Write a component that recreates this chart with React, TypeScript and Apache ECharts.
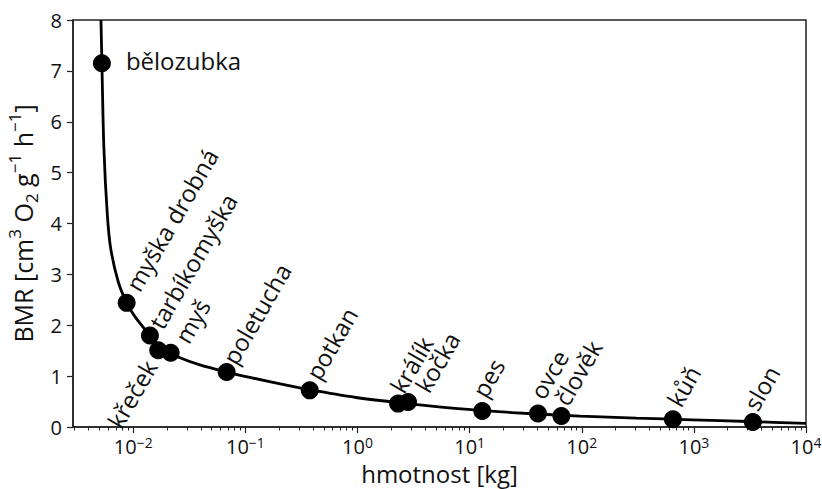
import React, { useEffect, useRef } from 'react';
import * as echarts from 'echarts';

// ---------- data ----------
const animalNames = ['bělozubka', 'myška drobná', 'tarbíkomyška', 'křeček', 'myš', 'poletucha', 'potkan', 'králík', 'kočka', 'pes', 'ovce', 'člověk', 'kůň', 'slon'];
const animalMass = [0.00525, 0.00873, 0.01408, 0.0167, 0.02156, 0.068, 0.375, 2.3, 2.82, 12.96, 40.7, 65.8, 650, 3356];
const animalBMR = [7.15, 2.44, 1.8, 1.51, 1.46, 1.08, 0.72, 0.46, 0.49, 0.315, 0.264, 0.217, 0.152, 0.098];

const curveMass = [0.00515, 0.00525, 0.00547, 0.00587, 0.00629, 0.00735, 0.00874, 0.01035, 0.01408, 0.01669, 0.02156, 0.0261, 0.0393, 0.068, 0.0967, 0.3056, 0.375, 0.967, 3.056, 9.67, 30.56, 96.7, 305.6, 967, 3056, 10000];
const curveBMR = [8.0, 7.15, 5.48, 4.17, 3.51, 2.85, 2.44, 2.17, 1.8, 1.62, 1.46, 1.36, 1.22, 1.08, 1.0, 0.77, 0.73, 0.58, 0.45, 0.345, 0.27, 0.215, 0.175, 0.142, 0.108, 0.07];

const xMin = 0.0029;
const xMax = 10000;
const yMin = 0;
const yMax = 8;
const yInterval = 1;

const majorTickMass = [0.01, 0.1, 1, 10, 100, 1000, 10000];
const tickDecades = [0.001, 0.01, 0.1, 1, 10, 100, 1000];
const tickMultipliers = [2, 3, 4, 5, 6, 7, 8, 9];

// ---------- label placement (style) ----------
type Place = { dx: number; dy: number; rotate: number; align: 'left' | 'right' };
const labelPlaces: Place[] = [
  { dx: 24, dy: -3, rotate: 0, align: 'left' }, // bělozubka
  { dx: 5, dy: -14, rotate: 60, align: 'left' }, // myška drobná
  { dx: 5, dy: -9, rotate: 60, align: 'left' }, // tarbíkomyška
  { dx: -8, dy: 12, rotate: 60, align: 'right' }, // křeček
  { dx: 10, dy: -12, rotate: 60, align: 'left' }, // myš
  { dx: 2, dy: -10, rotate: 60, align: 'left' }, // poletucha
  { dx: 2, dy: -13, rotate: 60, align: 'left' }, // potkan
  { dx: -2, dy: -13, rotate: 60, align: 'left' }, // králík
  { dx: 13, dy: -12, rotate: 60, align: 'left' }, // kočka
  { dx: -4, dy: -16, rotate: 60, align: 'left' }, // pes
  { dx: -2, dy: -17, rotate: 60, align: 'left' }, // ovce
  { dx: -1, dy: -13, rotate: 60, align: 'left' }, // člověk
  { dx: 0, dy: -15, rotate: 60, align: 'left' }, // kůň
  { dx: -3, dy: -14, rotate: 60, align: 'left' }, // slon
];

const FONT = '"Open Sans", "Noto Sans", "DejaVu Sans", sans-serif';
const INK = '#111';
const SYMBOL = 18;

export default function App() {
  const ref = useRef<HTMLDivElement>(null);

  useEffect(() => {
    if (!ref.current) return;
    const chart = echarts.init(ref.current, undefined, { renderer: 'svg' });

    const minorTickMass: number[] = [];
    tickDecades.forEach((d) => tickMultipliers.forEach((k) => {
      const v = +(d * k).toPrecision(6);
      if (v >= xMin && v <= xMax) minorTickMass.push(v);
    }));

    const half = SYMBOL / 2;
    const pointData = animalNames.map((name, i) => {
      const p = labelPlaces[i];
      return {
        name,
        value: [animalMass[i], animalBMR[i]],
        label: {
          show: true,
          formatter: name,
          position: [half + p.dx, half + p.dy],
          align: p.align,
          verticalAlign: 'middle',
          rotate: p.rotate,
          fontSize: 24,
          fontFamily: FONT,
          color: INK,
        },
      };
    });

    const option: any = {
      animation: false,
      backgroundColor: '#ffffff',
      grid: {
        left: 73,
        right: 16,
        top: 20,
        bottom: 62,
        outerBoundsMode: 'none',
        containLabel: false,
        show: true,
        borderColor: '#222',
        borderWidth: 1.5,
        backgroundColor: 'transparent',
      },
      xAxis: [
        {
          type: 'log',
          logBase: 10,
          min: xMin,
          max: xMax,
          position: 'bottom',
          name: 'hmotnost [kg]',
          nameLocation: 'middle',
          nameGap: 30,
          nameTextStyle: { fontSize: 24, lineHeight: 26, fontFamily: FONT, color: INK },
          axisLine: { show: true, lineStyle: { color: '#222', width: 1.5 } },
          axisTick: { show: true, customValues: majorTickMass, length: 6, lineStyle: { color: '#222', width: 1.2 } },
          minorTick: { show: false },
          splitLine: { show: false },
          axisLabel: {
            margin: 8,
            formatter: (v: number) => {
              const e = Math.log10(v);
              const r = Math.round(e);
              if (Math.abs(e - r) > 1e-6) return '';
              const exp = r < 0 ? '\u2212' + Math.abs(r) : String(r);
              return `{b|10}{s|${exp}}`;
            },
            rich: {
              b: { fontSize: 20, fontFamily: FONT, color: INK, lineHeight: 22 },
              s: { fontSize: 14, fontFamily: FONT, color: INK, verticalAlign: 'top', lineHeight: 14 },
            },
          },
        },
        {
          type: 'log',
          logBase: 10,
          min: xMin,
          max: xMax,
          position: 'bottom',
          axisLine: { show: false },
          axisLabel: { show: false },
          splitLine: { show: false },
          axisTick: { show: true, customValues: minorTickMass, length: 3.5, lineStyle: { color: '#222', width: 1 } },
        },
      ],
      yAxis: {
        type: 'value',
        min: yMin,
        max: yMax,
        interval: yInterval,
        name: '{b|BMR [cm}{s|3}{b| O}{u|2}{b| g}{s|\u22121}{b| h}{s|\u22121}{b|]}',
        nameLocation: 'middle',
        nameGap: 33,
        nameTextStyle: {
          fontFamily: FONT,
          color: INK,
          rich: {
            b: { fontSize: 25, fontFamily: FONT, color: INK, lineHeight: 34 },
            s: { fontSize: 17, fontFamily: FONT, color: INK, verticalAlign: 'top', lineHeight: 17 },
            u: { fontSize: 17, fontFamily: FONT, color: INK, verticalAlign: 'bottom', lineHeight: 17 },
          },
        },
        axisLine: { show: true, lineStyle: { color: '#222', width: 1.5 } },
        axisTick: { show: true, length: 6, lineStyle: { color: '#222', width: 1.2 } },
        splitLine: { show: false },
        axisLabel: { fontSize: 20, fontFamily: FONT, color: INK, margin: 11 },
      },
      series: [
        {
          type: 'line',
          xAxisIndex: 0,
          data: curveMass.map((m, i) => [m, curveBMR[i]]),
          showSymbol: false,
          smooth: 0.3,
          lineStyle: { color: '#000', width: 2.8 },
          z: 2,
          silent: true,
        },
        {
          type: 'scatter',
          xAxisIndex: 0,
          data: pointData,
          symbol: 'circle',
          symbolSize: SYMBOL,
          itemStyle: { color: '#000', opacity: 1 },
          z: 3,
        },
      ],
    };

    chart.setOption(option);
    return () => chart.dispose();
  }, []);

  return <div ref={ref} style={{ position: 'fixed', left: 0, top: 0, width: 822, height: 489, background: '#fff' }} />;
}
